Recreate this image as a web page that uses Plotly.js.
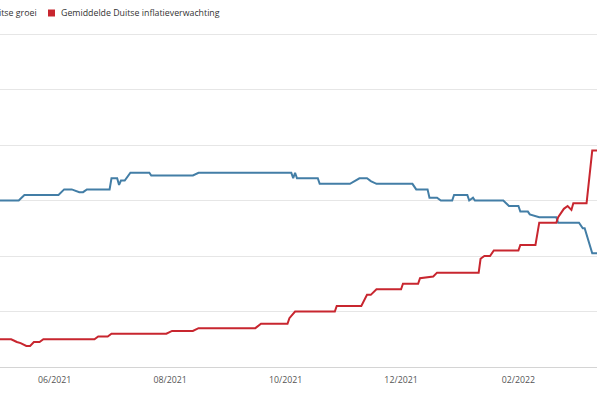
<!DOCTYPE html>
<html>
<head>
<meta charset="utf-8">
<script src="https://cdn.plot.ly/plotly-3.0.1.min.js"></script>
<style>
html,body{margin:0;padding:0;overflow:hidden;background:#fff;width:597px;height:398px;}
#chart{position:absolute;left:-100px;top:0;width:720px;height:398px;}
</style>
</head>
<body>
<div id="chart"></div>
<script>
// Series names
const seriesNames = ['Gemiddelde Duitse groei', 'Gemiddelde Duitse inflatieverwachting'];

// Gemiddelde Duitse groei (%)
const growthDates = ['2021-05-01','2021-05-13','2021-05-16','2021-06-03','2021-06-06','2021-06-10','2021-06-14','2021-06-16','2021-06-18','2021-06-30',
  '2021-07-01','2021-07-04','2021-07-05','2021-07-06','2021-07-08','2021-07-11','2021-07-21','2021-07-22','2021-08-13','2021-08-16',
  '2021-10-04','2021-10-05','2021-10-06','2021-10-07','2021-10-18','2021-10-19','2021-11-04','2021-11-09','2021-11-13','2021-11-15',
  '2021-11-18','2021-12-07','2021-12-09','2021-12-15','2021-12-16','2021-12-20','2021-12-22','2021-12-28','2021-12-29','2022-01-05',
  '2022-01-06','2022-01-08','2022-01-09','2022-01-24','2022-01-27','2022-02-01','2022-02-02','2022-02-06','2022-02-07','2022-02-12',
  '2022-02-21','2022-02-22','2022-03-05','2022-03-07','2022-03-08','2022-03-12','2022-03-16'];
const growthValues = [4.0,4.0,4.1,4.1,4.2,4.2,4.15,4.15,4.2,4.2,
  4.4,4.4,4.28,4.36,4.36,4.5,4.5,4.45,4.45,4.5,
  4.5,4.4,4.5,4.4,4.4,4.3,4.3,4.4,4.4,4.35,
  4.3,4.3,4.2,4.2,4.05,4.05,4.0,4.0,4.1,4.1,
  4.0,4.05,4.0,4.0,3.9,3.9,3.8,3.8,3.75,3.7,
  3.7,3.6,3.6,3.5,3.5,3.05,3.05];

// Gemiddelde Duitse inflatieverwachting (%)
const inflationDates = ['2021-05-01','2021-05-09','2021-05-12','2021-05-14','2021-05-17','2021-05-19','2021-05-21','2021-05-24','2021-05-26','2021-06-22',
  '2021-06-24','2021-06-29','2021-07-01','2021-07-30','2021-08-02','2021-08-13','2021-08-16','2021-09-15','2021-09-18','2021-10-02',
  '2021-10-03','2021-10-06','2021-10-27','2021-10-28','2021-11-10','2021-11-13','2021-11-15','2021-11-18','2021-12-01','2021-12-02',
  '2021-12-10','2021-12-11','2021-12-18','2021-12-20','2022-01-11','2022-01-12','2022-01-14','2022-01-17','2022-01-19','2022-02-01',
  '2022-02-02','2022-02-10','2022-02-12','2022-02-21','2022-02-22','2022-02-25','2022-02-27','2022-03-01','2022-03-02','2022-03-09',
  '2022-03-12','2022-03-16'];
const inflationValues = [1.5,1.5,1.45,1.43,1.38,1.38,1.45,1.45,1.5,1.5,
  1.55,1.55,1.6,1.6,1.65,1.65,1.7,1.7,1.78,1.78,
  1.88,2.0,2.0,2.1,2.1,2.3,2.3,2.4,2.4,2.5,
  2.5,2.6,2.63,2.7,2.7,2.95,3.0,3.0,3.1,3.1,
  3.2,3.2,3.6,3.6,3.7,3.85,3.9,3.83,3.95,3.95,
  4.9,4.9];

// X-axis ticks
const tickDates = ['2021-06-01','2021-08-01','2021-10-01','2021-12-01','2022-02-01'];
const tickLabels = ['06/2021','08/2021','10/2021','12/2021','02/2022'];

const blue = '#437ea6';
const red = '#c8262f';
const font = 'Open Sans, sans-serif';

const traces = [
  {x: growthDates, y: growthValues, type: 'scatter', mode: 'lines', name: seriesNames[0],
   line: {color: blue, width: 2}, showlegend: false, hoverinfo: 'skip'},
  {x: inflationDates, y: inflationValues, type: 'scatter', mode: 'lines', name: seriesNames[1],
   line: {color: red, width: 2}, showlegend: false, hoverinfo: 'skip'}
];

const W = 600, H = 338; // plot area size in px
const px = s => s / W;
const py = s => (367 - s) / H;

const layout = {
  width: 720, height: 398,
  margin: {l: 100, r: 20, t: 29, b: 31, pad: 0},
  paper_bgcolor: '#ffffff', plot_bgcolor: '#ffffff',
  font: {family: font, size: 8.8, color: '#333333'},
  xaxis: {
    type: 'date',
    range: ['2021-05-03 02:24', '2022-03-16 02:24'],
    tickvals: tickDates, ticktext: tickLabels,
    showgrid: false, zeroline: false,
    showline: true, linecolor: '#d4d4d4', linewidth: 1,
    ticks: 'outside', ticklen: 4, tickcolor: 'rgba(0,0,0,0)',
    tickfont: {family: font, size: 8.8, color: '#555555'}
  },
  yaxis: {
    range: [1, 7.09], dtick: 1, tick0: 1,
    showgrid: true, gridcolor: '#e6e6e6', gridwidth: 1,
    zeroline: false, showline: false, showticklabels: false, ticks: ''
  },
  shapes: [
    {type: 'rect', xref: 'paper', yref: 'paper', x0: px(-75), x1: px(-68), y0: py(16.5), y1: py(9.5),
     fillcolor: blue, line: {width: 0}},
    {type: 'rect', xref: 'paper', yref: 'paper', x0: px(48), x1: px(55), y0: py(16.5), y1: py(9.5),
     fillcolor: red, line: {width: 0}}
  ],
  annotations: [
    {xref: 'paper', yref: 'paper', x: px(39), y: py(13), xanchor: 'right', yanchor: 'middle',
     text: seriesNames[0], showarrow: false, font: {family: font, size: 8.8, color: '#333333'}},
    {xref: 'paper', yref: 'paper', x: px(59), y: py(13), xanchor: 'left', yanchor: 'middle',
     text: seriesNames[1], showarrow: false, font: {family: font, size: 8.8, color: '#333333'}}
  ]
};

Plotly.newPlot('chart', traces, layout, {staticPlot: true, displayModeBar: false});
</script>
</body>
</html>
